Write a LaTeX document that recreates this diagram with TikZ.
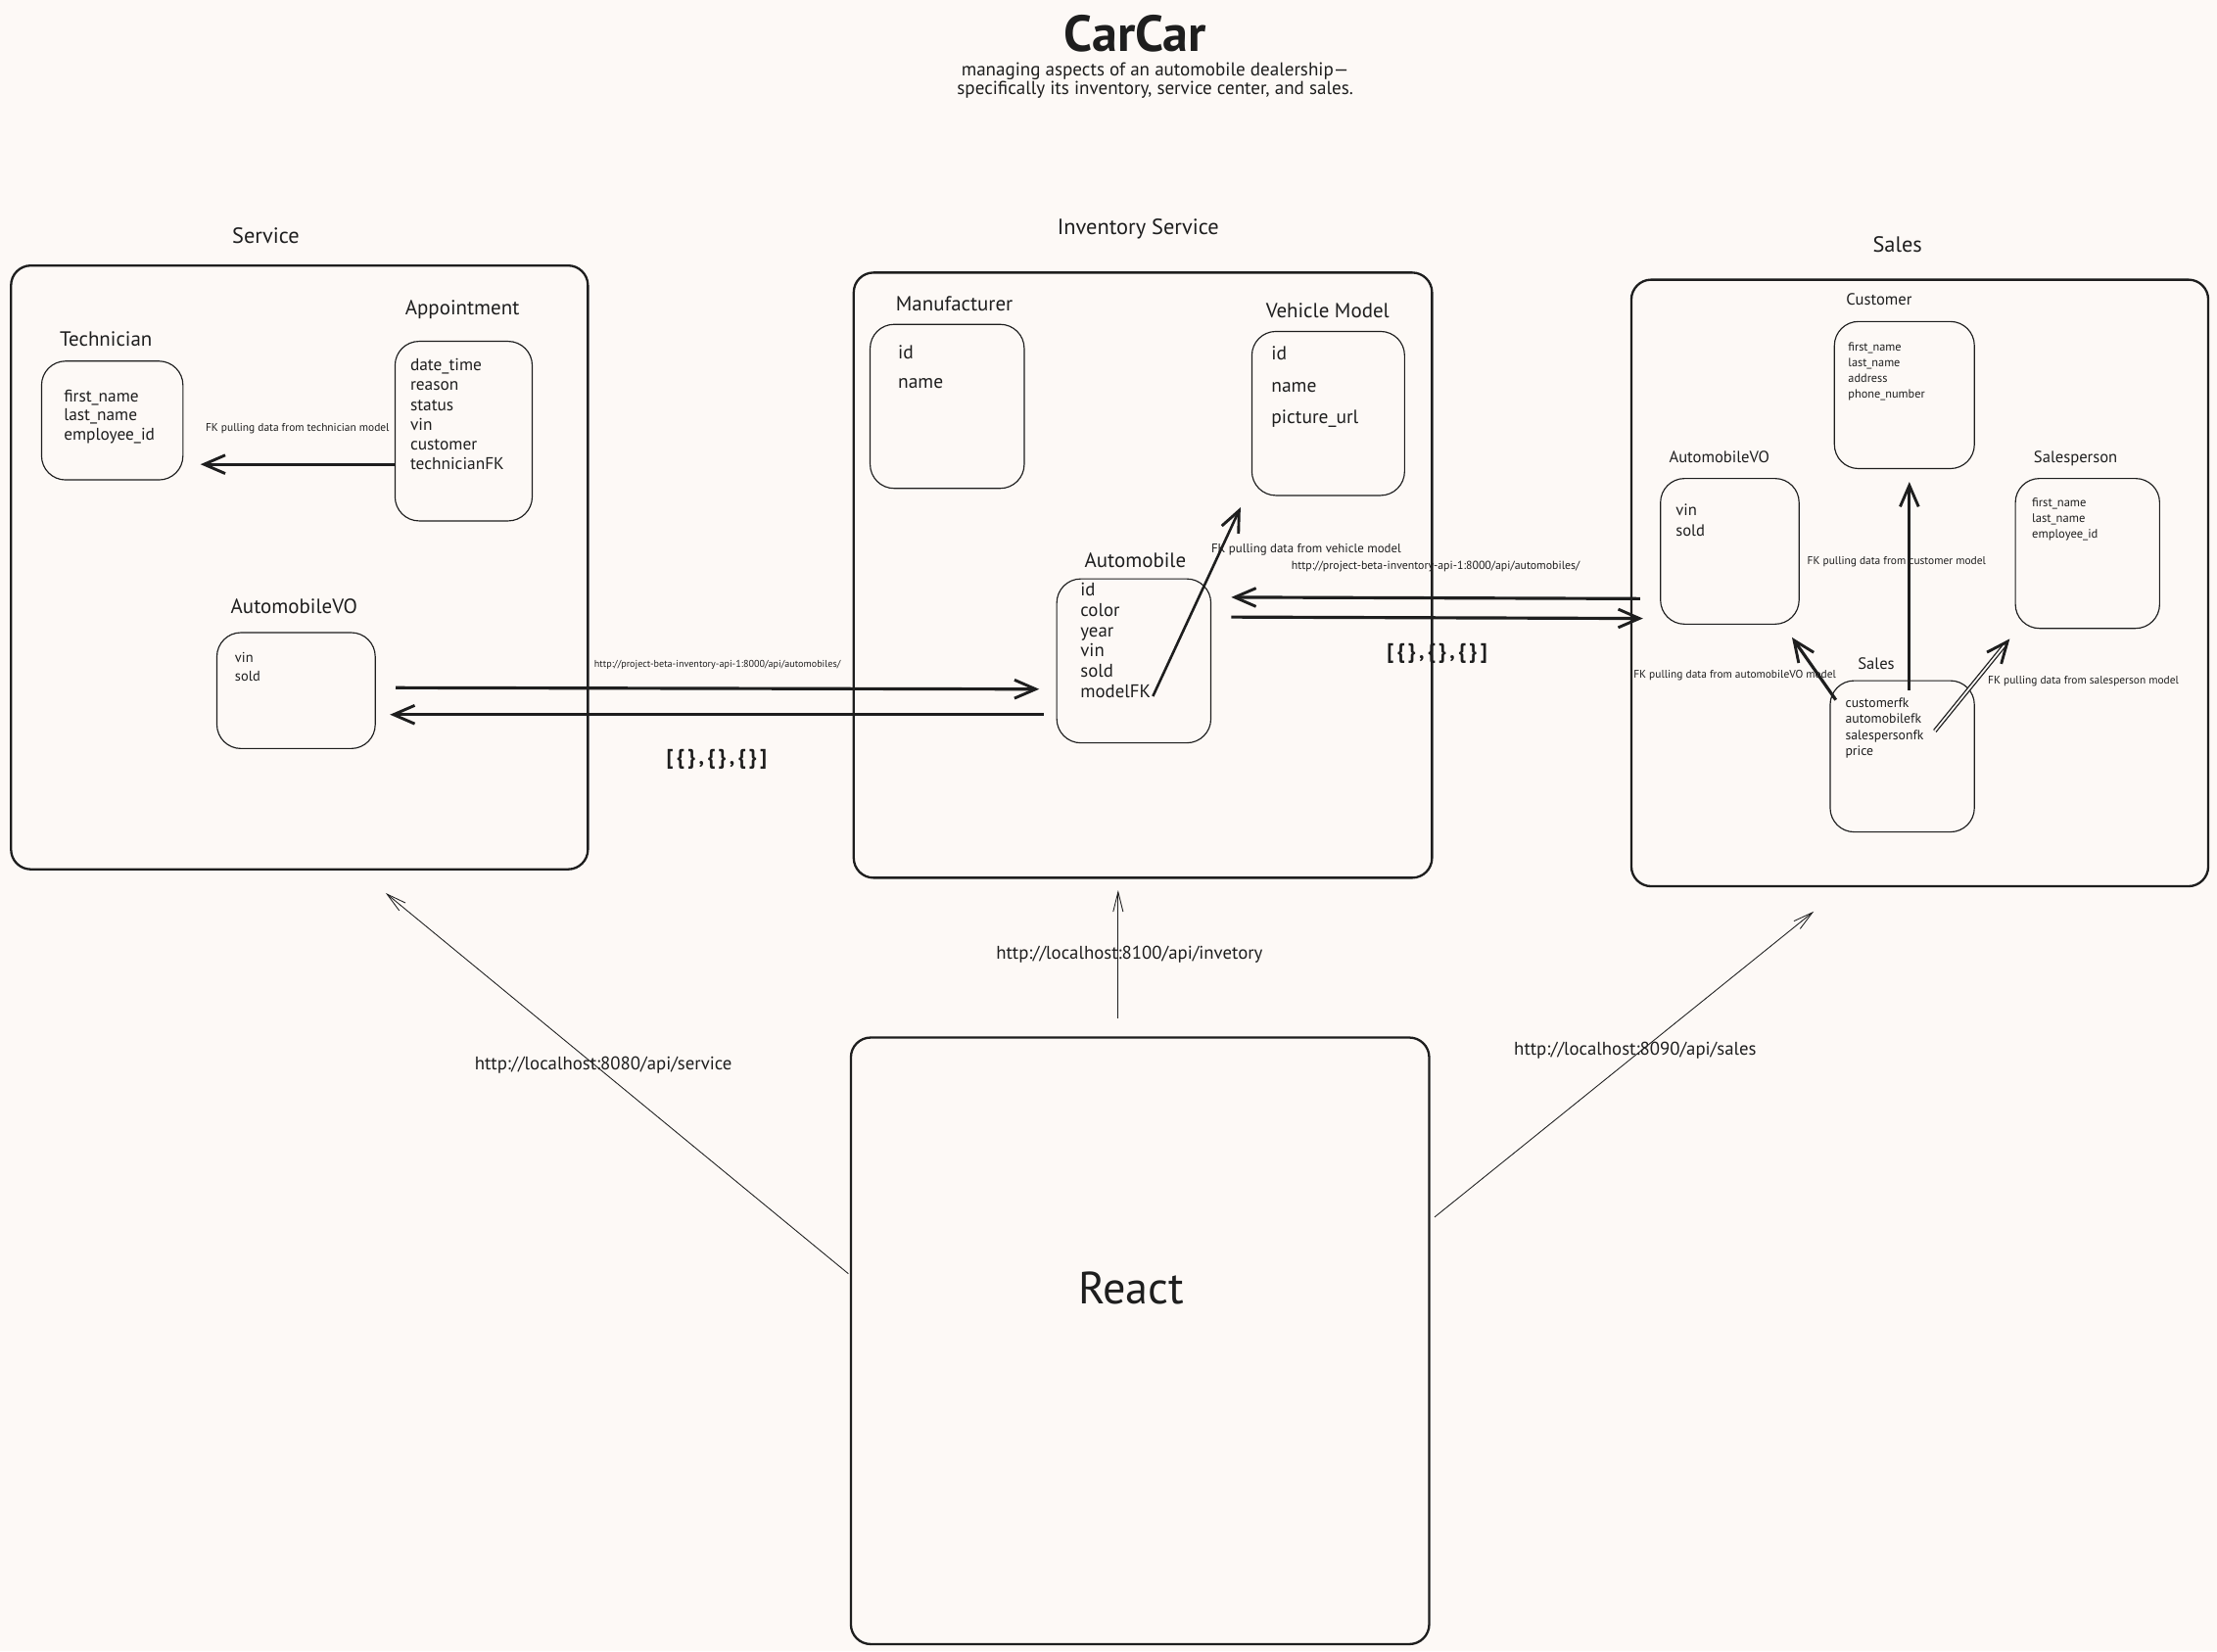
\documentclass[tikz,border=0pt]{standalone}
\usepackage{fontspec}
\setmainfont{PT Sans}
\usetikzlibrary{calc}
\usetikzlibrary{arrows.meta}
\usetikzlibrary{positioning}
\definecolor{paper}{RGB}{253,249,246}
\definecolor{ink}{RGB}{30,30,30}
\newcommand{\fsz}[2]{\fontsize{#1}{#2}\selectfont}

\begin{document}
\begin{tikzpicture}[x=1pt,y=-1pt,color=ink,
    panel/.style 2 args={draw,line width=1.6pt,rounded corners=14pt,minimum width=#1pt,minimum height=#2pt,inner sep=0pt,anchor=north west},
    model/.style 2 args={draw,line width=0.8pt,rounded corners=17pt,minimum width=#1pt,minimum height=#2pt,inner sep=0pt,anchor=north west},
    fields/.style 2 args={align=left,anchor=north west,inner sep=0pt,font=\fsz{#1}{#2}},
    heading/.style={font=\fsz{15.5}{18}},
    modelname/.style={font=\fsz{14.5}{17}},
    smallname/.style={font=\fsz{11.5}{14}},
    note/.style={font=\fsz{7.9}{9}},
    url/.style={font=\fsz{13}{15}},
    braces/.style={font=\fsz{15}{17}\bfseries\addfontfeature{LetterSpace=15}},
    fk/.style={line width=2.2pt,-{Straight Barb[length=15pt,width=13pt,line width=2pt]}},
    call/.style={line width=0.6pt,-{Straight Barb[length=14pt,width=7pt,line width=0.6pt]}}]
\path[use as bounding box,fill=paper] (0,0) rectangle (1568,1168);

\node[font=\fsz{36}{38}\bfseries] (title) at (803,24) {CarCar};
\node[align=center,font=\fsz{13.2}{13}] (subtitle) at (817,57) {managing aspects of an automobile dealership—\\specifically its inventory, service center, and sales.};

\node[panel={408}{427}] (service) at (7,187) {};
\node[panel={409}{428}] (inventory) at (603,192) {};
\node[panel={408}{429}] (sales) at (1153,197) {};
\node[panel={409}{429}] (react) at (601,733) {};

\node[heading] (servicename) at (188,167) {Service};
\node[heading] (inventoryname) at (805,162) {Inventory Service};
\node[heading] (salesname) at (1342,173) {Sales};
\node[font=\fsz{32}{34}] (reactname) at (800,911) {React};

\node[model={100}{84}] (tech) at (29,255) {};
\node[model={97}{127}] (appt) at (279,241) {};
\node[model={112}{82}] (svcvo) at (153,447) {};
\node[model={109}{116}] (manuf) at (615,229) {};
\node[model={108}{116}] (vmodel) at (885,234) {};
\node[model={109}{116}] (automobile) at (747,409) {};
\node[model={99}{104}] (cust) at (1297,227) {};
\node[model={98}{103}] (salesvo) at (1174,338) {};
\node[model={102}{106}] (salesp) at (1425,338) {};
\node[model={102}{107}] (sale) at (1294,481) {};

\node[modelname] (techname) at (75,240) {Technician};
\node[modelname] (apptname) at (327,219) {Appointment};
\node[modelname] (svcvoname) at (208,429) {AutomobileVO};
\node[modelname] (manufname) at (675,215) {Manufacturer};
\node[modelname] (vmodelname) at (939,220) {Vehicle Model};
\node[modelname] (automobilename) at (803,396) {Automobile};
\node[smallname] (custname) at (1329,212) {Customer};
\node[smallname] (salesvoname) at (1216,323) {AutomobileVO};
\node[smallname] (salespname) at (1468,324) {Salesperson};
\node[smallname] (salename) at (1327,469) {Sales};

\node[fields={12}{13.5}] (techf) at (45,275.5) {first\_name\\last\_name\\employee\_id};
\node[fields={12}{14}] (apptf) at (290,253.5) {date\_time\\reason\\status\\vin\\customer\\technicianFK};
\node[fields={10}{13}] (svcvof) at (166,461.5) {vin\\sold};
\node[fields={13.5}{21}] (manuff) at (635,244) {id\\name};
\node[fields={13.5}{22.5}] (vmodelf) at (899,245) {id\\name\\picture\_url};
\node[fields={13}{14.4}] (automobilef) at (764,412) {id\\color\\year\\vin\\sold\\modelFK};
\node[fields={8.5}{11}] (custf) at (1307,242) {first\_name\\last\_name\\address\\phone\_number};
\node[fields={11.5}{14}] (salesvof) at (1185,356.5) {vin\\sold};
\node[fields={8.7}{11}] (salespf) at (1437,352) {first\_name\\last\_name\\employee\_id};
\node[fields={9.5}{11.3}] (salef) at (1305,493.5) {customerfk\\automobilefk\\salespersonfk\\price};

\draw[fk] ($(appt.west)+(0,23.5)$) -- ($(tech.east)+(12,31)$) node[midway,above=17pt,note] (techfk) {FK pulling data from technician model};

\draw[fk] ($(svcvo.east)+(14,-2)$) -- ($(automobile.west)+(-12,20)$) node[midway,above=9pt,font=\fsz{7}{8}] (svcurl) {http://project-beta-inventory-api-1:8000/api/automobiles/};
\draw[fk] ($(automobile.west)+(-9,38)$) -- ($(svcvo.east)+(10,17)$) node[midway,below=20pt,braces] (svclist) {[\{\},\{\},\{\}]};

\draw[fk,line width=1.8pt] ($(automobile.center)+(13.5,25)$) -- ($(vmodel.south)+(-62,8)$) node[pos=0.776,anchor=west,xshift=-11pt,font=\fsz{8.9}{10}] (vmodelfk) {FK pulling data from vehicle model};

\draw[fk] ($(salesvo.west)+(-14,33.5)$) -- ($(automobile.east)+(14,-45)$) node[midway,above=14pt,font=\fsz{8.2}{9}] (salesurl) {http://project-beta-inventory-api-1:8000/api/automobiles/};
\draw[fk] ($(automobile.east)+(14,-31)$) -- ($(salesvo.west)+(-12,47.5)$) node[midway,below=14pt,braces] (saleslist) {[\{\},\{\},\{\}]};

\draw[fk] ($(sale.north)+(5,7)$) -- ($(cust.south)+(3.5,9)$) node[pos=0.615,xshift=-9pt,note] (custfk) {FK pulling data from customer model};
\draw[fk] ($(sale.north)+(-47,14)$) -- ($(salesvo.south)+(44,9)$) node[pos=0.4,anchor=east,xshift=17pt,note] (salesvofk) {FK pulling data from automobileVO model};
\draw[fk,double=paper,double distance=1.2pt,line width=0.9pt] ($(sale.north)+(23,36)$) -- ($(salesp.south)+(-55,7)$) node[pos=0.545,anchor=west,xshift=5pt,note] (salespfk) {FK pulling data from salesperson model};

\draw[call] ($(react.west)+(-1,-47.5)$) -- ($(service.south)+(61,16)$) node[pos=0.548,xshift=6pt,url] (svccall) {http://localhost:8080/api/service};
\draw[call] ($(react.north)+(-15.5,-13)$) -- ($(inventory.south)+(-17.5,8)$) node[midway,xshift=8pt,url] (invcall) {http://localhost:8100/api/invetory};
\draw[call] ($(react.east)+(3,-87.5)$) -- ($(sales.south)+(-75,17)$) node[pos=0.544,xshift=-4pt,url] (salescall) {http://localhost:8090/api/sales};
\end{tikzpicture}
\end{document}
